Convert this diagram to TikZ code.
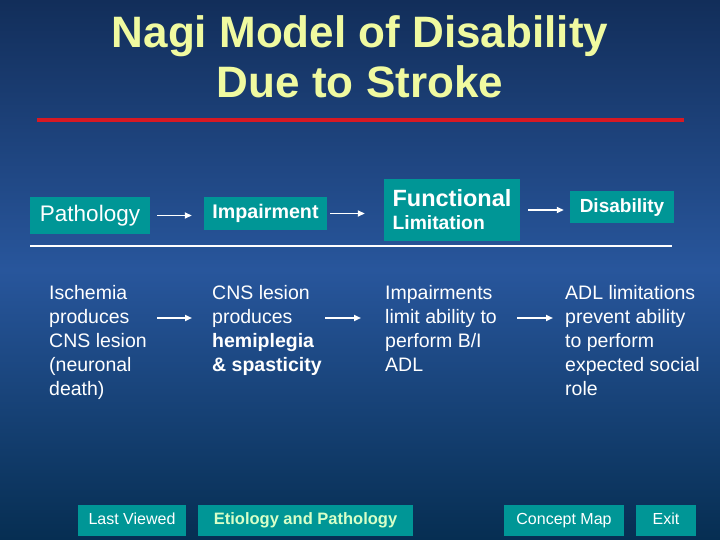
\documentclass[tikz,border=0pt]{standalone}
\usepackage{fontspec}
\setmainfont{Liberation Sans}
\usetikzlibrary{arrows.meta}
\definecolor{teal1}{RGB}{0,150,150}
\definecolor{titleyel}{RGB}{240,250,160}
\definecolor{redl}{RGB}{215,25,35}
\definecolor{bgtop}{RGB}{18,46,90}
\definecolor{bgmid}{RGB}{40,86,156}
\definecolor{bgbot}{RGB}{6,46,82}
\definecolor{etiol}{RGB}{215,255,200}
\begin{document}
\begin{tikzpicture}[x=1pt,y=-1pt,
  box/.style={fill=teal1,text=white,inner sep=0pt,anchor=center},
  btn/.style={box,minimum height=31pt,font=\fontsize{16}{18}\selectfont,text height=11.5pt,text depth=3pt},
  body/.style={text=white,anchor=north west,inner sep=0pt,align=left,font=\fontsize{19.5}{24}\selectfont},
  titlef/.style={text=titleyel,font=\fontsize{44}{50}\selectfont\bfseries,anchor=base,inner sep=0pt},
  arr/.style={draw=white,line width=1.8pt,-{Triangle[length=7pt,width=6pt]}}]
\useasboundingbox (0,0) rectangle (720,540);
\shade[top color=bgtop, bottom color=bgbot, middle color=bgmid] (0,0) rectangle (720,540);
% title
\node[titlef] (t1) at (360,48) {Nagi Model of Disability};
\node[titlef] (t2) at (360,98) {Due to Stroke};
\draw[redl,line width=4pt] (37,120) -- (684,120);
% header boxes
\node[box,minimum width=120pt,minimum height=37pt,font=\fontsize{22.5}{26}\selectfont,text height=16pt,text depth=4.5pt] (path) at (90,215.5) {Pathology};
\node[box,minimum width=123pt,minimum height=33pt,font=\fontsize{19.7}{22}\selectfont\bfseries,text height=14.5pt,text depth=4pt] (imp) at (265.5,213.5) {Impairment};
\node[box,minimum width=136pt,minimum height=62pt,align=left,font=\fontsize{19.3}{23}\selectfont\bfseries] (fl) at (452,210) {{\fontsize{23.5}{26}\selectfont Functional}\\Limitation};
\node[box,minimum width=104pt,minimum height=32pt,font=\fontsize{19}{22}\selectfont\bfseries,text height=14pt,text depth=4pt] (dis) at (622,207) {Disability};
\draw[arr,shorten <=7pt,shorten >=12pt] (path.east) -- (path.east -| imp.west);
\draw[arr,shorten <=3pt,shorten >=19pt] (imp.east) -- (imp.east -| fl.west);
\draw[arr,shorten <=8pt,shorten >=6pt] (fl.east) -- (fl.east -| dis.west);
\draw[white,line width=2pt] (30,246) -- (672,246);
% body texts
\node[body] (isch) at (49,284) {\rule{0pt}{15pt}Ischemia\\produces\\CNS lesion\\(neuronal\\death)};
\node[body] (cns) at (212,284) {\rule{0pt}{15pt}CNS lesion\\produces\\\textbf{hemiplegia}\\\textbf{\& spasticity}};
\node[body] (impl) at (385,284) {\rule{0pt}{15pt}Impairments\\limit ability to\\perform B/I\\ADL};
\node[body] (adl) at (565,284) {\rule{0pt}{15pt}ADL limitations\\prevent ability\\to perform\\expected social\\role};
\coordinate (a1s) at (157,318); \coordinate (a1e) at (192,318);
\coordinate (a2s) at (325,318); \coordinate (a2e) at (361,318);
\coordinate (a3s) at (517,318); \coordinate (a3e) at (553,318);
\draw[arr] (a1s) -- (a1e);
\draw[arr] (a2s) -- (a2e);
\draw[arr] (a3s) -- (a3e);
% buttons
\node[btn,minimum width=108pt] (last) at (132,520.5) {Last Viewed};
\node[btn,minimum width=215pt,text=etiol,font=\fontsize{16.5}{18}\selectfont\bfseries] (etio) at (305.5,520.5) {Etiology and Pathology};
\node[btn,minimum width=120pt] (cmap) at (564,520.5) {Concept Map};
\node[btn,minimum width=60pt] (exit) at (666,520.5) {Exit};
\end{tikzpicture}
\end{document}
